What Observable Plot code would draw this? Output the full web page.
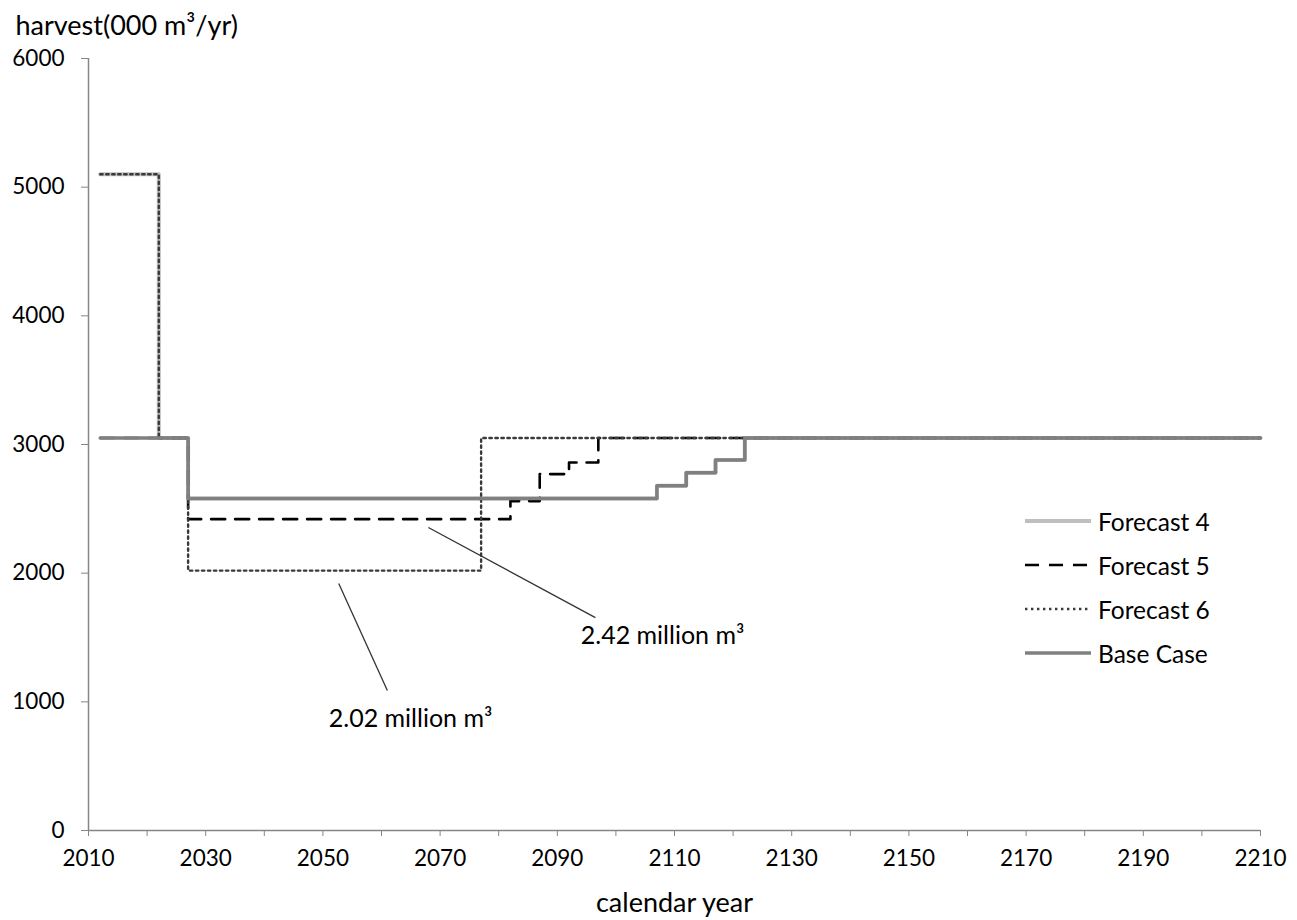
<!DOCTYPE html>
<html>
<head>
<meta charset="utf-8">
<script src="https://cdn.jsdelivr.net/npm/d3@7"></script>
<script src="https://cdn.jsdelivr.net/npm/@observablehq/plot@0.6"></script>
<style>
  html, body { margin: 0; padding: 0; background: #fff; }
  #wrap { position: relative; width: 1297px; height: 920px; font-family: Lato, "Open Sans", sans-serif; }
  #legend { position: absolute; left: 1025px; top: 504px; }
  .row { position: absolute; left: 0; height: 34px; display: flex; align-items: center; white-space: nowrap; font-size: 24.5px; color: #000; }
  .row svg { width: 66px; height: 10px; margin-right: 7px; }
</style>
</head>
<body>
<div id="wrap"></div>
<script>
// ---- data ----
const seriesNames = ["Forecast 4", "Forecast 5", "Forecast 6", "Base Case"];

const f4Years  = [2012, 2022, 2027, 2107, 2112, 2117, 2122, 2210];
const f4Values = [5100, 3050, 2580, 2680, 2780, 2880, 3050, 3050];

const f5Years  = [2012, 2027, 2082, 2087, 2092, 2097, 2210];
const f5Values = [3050, 2420, 2560, 2770, 2860, 3050, 3050];

const f6Years  = [2012, 2022, 2027, 2077, 2210];
const f6Values = [5100, 3050, 2020, 3050, 3050];

const baseYears  = [2012, 2027, 2107, 2112, 2117, 2122, 2210];
const baseValues = [3050, 2580, 2680, 2780, 2880, 3050, 3050];

const xTicks = d3.range(2010, 2211, 10);
const yTicks = [0, 1000, 2000, 3000, 4000, 5000, 6000];

const annotationTexts = ["2.42 million m³", "2.02 million m³"];
const annotationTextX = [2094, 2051];
const annotationTextY = [1515, 870];
const leaderX1 = [2068, 2052.7];
const leaderY1 = [2355, 1920];
const leaderX2 = [2096.5, 2061];
const leaderY2 = [1655, 1088];

// ---- build tables ----
const toRows = (xs, ys) => xs.map((x, i) => ({year: x, value: ys[i]}));
const f4 = toRows(f4Years, f4Values);
const f5 = toRows(f5Years, f5Values);
const f6 = toRows(f6Years, f6Values);
const base = toRows(baseYears, baseValues);
const annotations = annotationTexts.map((t, i) => ({
  text: t, tx: annotationTextX[i], ty: annotationTextY[i],
  x1: leaderX1[i], y1: leaderY1[i], x2: leaderX2[i], y2: leaderY2[i]
}));

const styles = {
  "Forecast 4": {stroke: "#bfbfbf", strokeWidth: 4, strokeDasharray: null},
  "Forecast 5": {stroke: "#000000", strokeWidth: 2.6, strokeDasharray: "14,10"},
  "Forecast 6": {stroke: "#3a3a3a", strokeWidth: 2.4, strokeDasharray: "2.4,3.6"},
  "Base Case":  {stroke: "#808080", strokeWidth: 3.5, strokeDasharray: null}
};

const axisColor = "#868686";

const chart = Plot.plot({
  width: 1297,
  height: 920,
  marginLeft: 88,
  marginRight: 37,
  marginTop: 58,
  marginBottom: 90,
  style: {fontFamily: "Lato, 'Open Sans', sans-serif", fontSize: "22px", color: "#000", background: "#fff"},
  x: {domain: [2010, 2210]},
  y: {domain: [0, 6000]},
  marks: [
    Plot.ruleX([2010], {stroke: axisColor, strokeWidth: 1.5}),
    Plot.ruleY([0], {stroke: axisColor, strokeWidth: 1.5}),
    Plot.axisX({ticks: xTicks, tickSize: 6, tickPadding: 14, stroke: axisColor, fill: "#000",
      tickFormat: d => (d - 2010) % 20 === 0 ? String(d) : "", label: null, fontSize: 22.5}),
    Plot.axisY({ticks: yTicks, tickSize: 7, tickPadding: 17, stroke: axisColor, fill: "#000",
      tickFormat: d => String(d), label: null, fontSize: 22.5}),
    Plot.line(f4, {x: "year", y: "value", curve: "step-after", ...styles["Forecast 4"]}),
    Plot.line(f5, {x: "year", y: "value", curve: "step-after", ...styles["Forecast 5"]}),
    Plot.line(f6, {x: "year", y: "value", curve: "step-after", ...styles["Forecast 6"]}),
    Plot.line(base, {x: "year", y: "value", curve: "step-after", ...styles["Base Case"]}),
    Plot.link(annotations, {x1: "x1", y1: "y1", x2: "x2", y2: "y2", stroke: "#333", strokeWidth: 1.3}),
    Plot.text(annotations, {x: "tx", y: "ty", text: "text", textAnchor: "start", lineAnchor: "middle", fontSize: 25, fill: "#000"}),
    Plot.text(["harvest(000 m³/yr)"], {frameAnchor: "top-left", dx: -73, dy: -32, textAnchor: "start", lineAnchor: "middle", fontSize: 27, fill: "#000"}),
    Plot.text(["calendar year"], {frameAnchor: "bottom", dy: 73, lineAnchor: "middle", fontSize: 27, fill: "#000"})
  ]
});

const wrap = document.getElementById("wrap");
wrap.appendChild(chart);

// legend
const legend = document.createElement("div");
legend.id = "legend";
seriesNames.forEach((name, i) => {
  const s = styles[name];
  const row = document.createElement("div");
  row.className = "row";
  row.style.top = (i * 44) + "px";
  const dash = s.strokeDasharray ? `stroke-dasharray="${s.strokeDasharray}"` : "";
  row.innerHTML = `<svg viewBox="0 0 66 10"><line x1="0" y1="5" x2="66" y2="5" stroke="${s.stroke}" stroke-width="${s.strokeWidth}" ${dash}/></svg><span>${name}</span>`;
  legend.appendChild(row);
});
wrap.appendChild(legend);
</script>
</body>
</html>
